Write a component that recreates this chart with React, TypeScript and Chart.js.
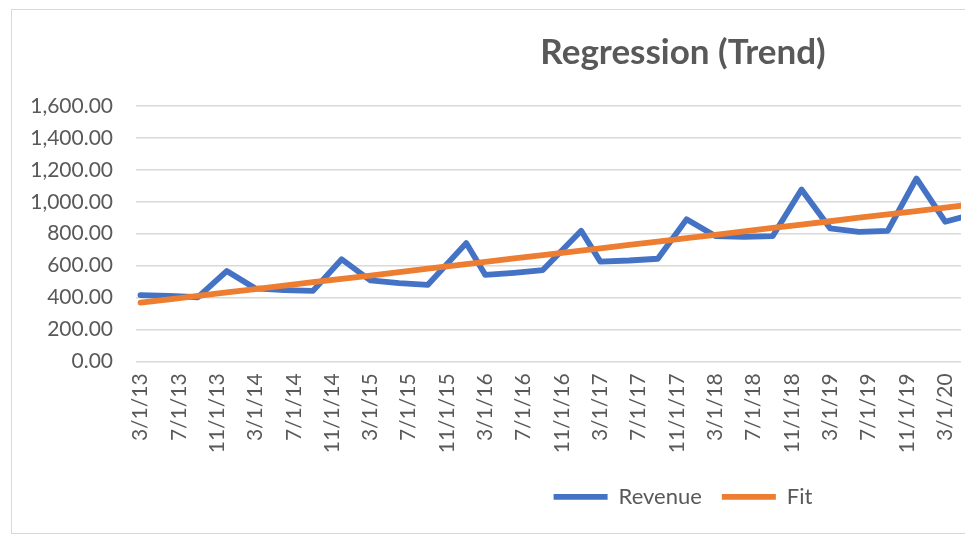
import React, { useEffect, useRef } from 'react';
import { Chart, registerables } from 'chart.js';

Chart.register(...registerables);

// ---- data ----
const revenueDates = [
  '3/1/13', '6/1/13', '9/1/13', '12/1/13',
  '3/1/14', '6/1/14', '9/1/14', '12/1/14',
  '3/1/15', '6/1/15', '9/1/15', '1/1/16',
  '3/1/16', '6/1/16', '9/1/16', '1/1/17',
  '3/1/17', '6/1/17', '9/1/17', '12/1/17',
  '3/1/18', '6/1/18', '9/1/18', '12/1/18',
  '3/1/19', '6/1/19', '9/1/19', '12/1/19',
  '3/1/20', '6/1/20',
];
const revenueValues = [
  415, 410, 402, 566,
  457, 447, 442, 640,
  507, 490, 480, 741,
  542, 555, 572, 818,
  625, 632, 643, 890,
  785, 780, 785, 1077,
  833, 812, 818, 1146,
  875, 923,
];
const fitValues = [
  368, 389, 411, 432,
  453, 474, 496, 517,
  538, 560, 581, 609,
  623, 645, 666, 694,
  708, 730, 751, 772,
  793, 815, 836, 857,
  878, 900, 921, 942,
  963, 985,
];
const xTickLabels = [
  '3/1/13', '7/1/13', '11/1/13', '3/1/14', '7/1/14', '11/1/14',
  '3/1/15', '7/1/15', '11/1/15', '3/1/16', '7/1/16', '11/1/16',
  '3/1/17', '7/1/17', '11/1/17', '3/1/18', '7/1/18', '11/1/18',
  '3/1/19', '7/1/19', '11/1/19', '3/1/20',
];
const yTickLabels = [
  '0.00', '200.00', '400.00', '600.00', '800.00',
  '1,000.00', '1,200.00', '1,400.00', '1,600.00',
];
const titleText = 'Regression (Trend)';

// months since 3/1/13
const monthIndex = (d: string) => {
  const [m, day, yy] = d.split('/').map(Number);
  return (2000 + yy - 2013) * 12 + (m - 3) + (day - 1) / 30;
};

const GRAY = '#595959';
const FONT = 'Lato';

export default function App() {
  const ref = useRef<HTMLCanvasElement>(null);

  useEffect(() => {
    if (!ref.current) return;
    Chart.defaults.font.family = FONT;
    Chart.defaults.color = GRAY;
    const chart = new Chart(ref.current, {
      type: 'line',
      data: {
        datasets: [
          {
            label: 'Revenue',
            data: revenueDates.map((d, i) => ({ x: monthIndex(d), y: revenueValues[i] })),
            borderColor: '#4472C4',
            backgroundColor: '#4472C4',
            borderWidth: 5.8,
            borderCapStyle: 'round',
            borderJoinStyle: 'round',
            pointRadius: 0,
            tension: 0,
            clip: 0,
            order: 1,
          },
          {
            label: 'Fit',
            data: revenueDates.map((d, i) => ({ x: monthIndex(d), y: fitValues[i] })),
            borderColor: '#ED7D31',
            backgroundColor: '#ED7D31',
            borderWidth: 5.8,
            borderCapStyle: 'round',
            borderJoinStyle: 'round',
            pointRadius: 0,
            tension: 0,
            clip: 0,
            order: 0,
          },
        ],
      },
      options: {
        animation: false,
        responsive: false,
        devicePixelRatio: 1,
        layout: { padding: { left: 0, right: 0, top: 0, bottom: 15.1 } },
        plugins: {
          title: {
            display: true,
            text: titleText,
            color: GRAY,
            font: { family: FONT, size: 35, weight: 'bold', lineHeight: 1.2 },
            padding: { top: 22, bottom: 32 },
          },
          legend: {
            position: 'bottom',
            labels: {
              usePointStyle: true,
              pointStyle: 'line',
              pointStyleWidth: 54,
              color: GRAY,
              font: { family: FONT, size: 22 },
              padding: 20,
              sort: (a: any, b: any) => a.datasetIndex - b.datasetIndex,
            },
          },
          tooltip: { enabled: false },
        },
        scales: {
          x: {
            type: 'linear',
            min: -0.47,
            max: 85.65,
            afterBuildTicks: (scale: any) => {
              scale.ticks = xTickLabels.map((l) => ({ value: monthIndex(l) }));
            },
            afterFit: (scale: any) => {
              scale.height = 104.5;
            },
            grid: { display: false, drawTicks: false },
            border: { display: false },
            ticks: {
              autoSkip: false,
              minRotation: 90,
              maxRotation: 90,
              padding: 12,
              color: GRAY,
              font: { family: FONT, size: 21 },
              callback: (_v: any, i: number) => xTickLabels[i],
            },
          },
          y: {
            min: 0,
            max: 1600,
            afterFit: (scale: any) => {
              scale.width = 124;
            },
            grid: { color: '#d9d9d9', lineWidth: 1.5, drawTicks: false },
            border: { display: false },
            ticks: {
              stepSize: 200,
              padding: 23,
              color: GRAY,
              font: { family: FONT, size: 21 },
              callback: (_v: any, i: number) => yTickLabels[i],
            },
          },
          // empty spacer on the right: the reference is a crop of a wider chart
          spacer: {
            type: 'linear',
            position: 'right',
            display: true,
            afterFit: (scale: any) => {
              scale.width = 393;
            },
            grid: { display: false, drawTicks: false },
            border: { display: false },
            ticks: { display: false },
          },
        },
      },
    } as any);
    return () => chart.destroy();
  }, []);

  return (
    <div
      style={{
        position: 'absolute',
        left: 11,
        top: 9,
        width: 953,
        height: 523,
        overflow: 'hidden',
        background: '#fff',
        borderLeft: '1px solid #d9d9d9',
        borderTop: '1px solid #d9d9d9',
        borderBottom: '1px solid #d9d9d9',
      }}
    >
      <canvas ref={ref} width={1342} height={523} style={{ display: 'block', width: 1342, height: 523 }} />
    </div>
  );
}
